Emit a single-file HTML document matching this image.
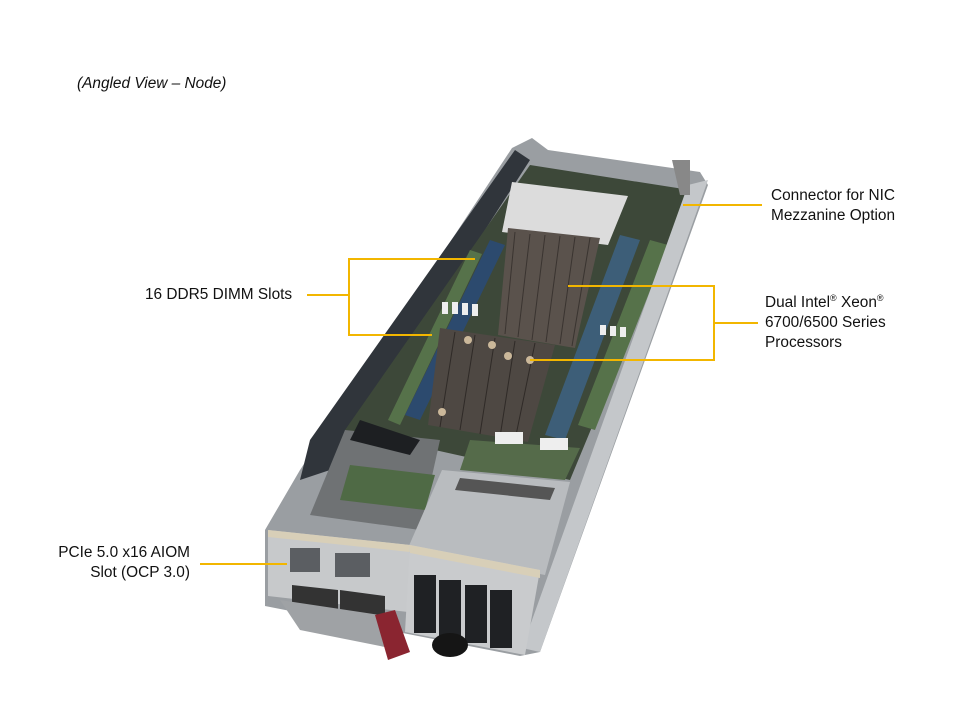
<!DOCTYPE html>
<html><head><meta charset="utf-8"><style>
html,body{margin:0;padding:0;background:#fff;}
body{width:960px;height:720px;overflow:hidden;position:relative;font-family:"Liberation Sans",Arial,sans-serif;}
.t{position:absolute;font-size:15.4px;line-height:20px;color:#111;white-space:nowrap;}
sup{font-size:9px;vertical-align:6px;line-height:0;}
</style></head><body>
<svg width="960" height="720" style="position:absolute;left:0;top:0">
  <!-- chassis outer -->
  <polygon points="512,148 532,138 548,150 700,172 708,185 540,652 520,656 265,606 265,530 300,470" fill="#9a9ea2"/>
  <!-- left wall dark -->
  <polygon points="515,150 530,160 350,440 330,470 300,480 310,440" fill="#30353b"/>
  <!-- board area -->
  <polygon points="530,165 690,190 570,480 345,430" fill="#3d4839"/>
  <!-- DIMM rows left -->
  <polygon points="490,240 505,245 420,420 405,415" fill="#2c4a6e"/>
  <polygon points="470,250 482,254 400,425 388,420" fill="#56724a"/>
  <!-- DIMM rows right -->
  <polygon points="620,235 640,240 565,440 545,435" fill="#3d5e78"/>
  <polygon points="650,240 668,245 595,430 578,425" fill="#56724a"/>
  <!-- right rail -->
  <polygon points="688,185 708,180 540,652 522,648" fill="#c4c7ca"/>
  <polygon points="672,160 690,160 690,195 680,195" fill="#888"/>
  <!-- top label plate -->
  <polygon points="512,182 628,196 608,245 502,232" fill="#dcdcdc"/>
  <!-- upper heatsink -->
  <polygon points="508,228 600,238 575,348 498,335" fill="#5a524c"/>
  <g stroke="#3a3430" stroke-width="1">
    <line x1="515" y1="232" x2="505" y2="334"/><line x1="530" y1="234" x2="518" y2="337"/>
    <line x1="545" y1="235" x2="532" y2="340"/><line x1="560" y1="236" x2="546" y2="342"/>
    <line x1="575" y1="237" x2="560" y2="344"/><line x1="590" y1="238" x2="572" y2="346"/>
  </g>
  <!-- lower heatsink -->
  <polygon points="440,328 555,345 528,442 428,425" fill="#4e4843"/>
  <g stroke="#2f2a27" stroke-width="1">
    <line x1="455" y1="332" x2="440" y2="427"/><line x1="475" y1="335" x2="460" y2="430"/>
    <line x1="495" y1="338" x2="480" y2="434"/><line x1="515" y1="341" x2="500" y2="437"/>
    <line x1="535" y1="343" x2="515" y2="440"/>
  </g>
  <g fill="#cbb89a"><circle cx="468" cy="340" r="4"/><circle cx="492" cy="345" r="4"/><circle cx="508" cy="356" r="4"/><circle cx="530" cy="360" r="4"/><circle cx="442" cy="412" r="4"/></g>
  <!-- white clips -->
  <g fill="#eee"><rect x="442" y="302" width="6" height="12"/><rect x="452" y="302" width="6" height="12"/><rect x="462" y="303" width="6" height="12"/><rect x="472" y="304" width="6" height="12"/>
  <rect x="600" y="325" width="6" height="10"/><rect x="610" y="326" width="6" height="10"/><rect x="620" y="327" width="6" height="10"/></g>
  <!-- lower left open area -->
  <polygon points="345,430 440,440 420,530 310,515" fill="#6f7274"/>
  <polygon points="350,465 435,475 425,510 340,500" fill="#4f6a45"/>
  <polygon points="360,420 420,440 410,455 350,440" fill="#1d1f22"/>
  <!-- riser board -->
  <polygon points="470,440 580,448 565,480 460,470" fill="#556b4a"/>
  <rect x="495" y="432" width="28" height="12" fill="#eee"/><rect x="540" y="438" width="28" height="12" fill="#eee"/>
  <!-- silver cover -->
  <polygon points="442,470 570,482 545,575 408,548" fill="#b9bcbf"/>
  <polygon points="460,478 555,488 550,500 455,490" fill="#555"/>
  <!-- front left IO panel -->
  <polygon points="268,530 410,545 408,612 268,596" fill="#c7c9cb"/>
  <polygon points="268,530 410,545 410,552 268,537" fill="#d8cfb8"/>
  <g fill="#5b5e62"><rect x="290" y="548" width="30" height="24"/><rect x="335" y="553" width="35" height="24"/></g>
  <polygon points="292,585 338,590 338,612 292,606" fill="#333"/><polygon points="340,590 385,596 385,618 340,612" fill="#333"/>
  <polygon points="280,600 380,615 400,650 300,630" fill="#9fa2a5"/>
  <polygon points="375,615 395,610 410,652 388,660" fill="#8a2530"/>
  <!-- front right drive panel -->
  <polygon points="410,545 540,570 525,655 405,632" fill="#c9cbcd"/>
  <polygon points="410,545 540,570 540,578 410,553" fill="#d8cfb8"/>
  <g fill="#1f2124">
    <rect x="414" y="575" width="22" height="58"/><rect x="439" y="580" width="22" height="58"/>
    <rect x="465" y="585" width="22" height="58"/><rect x="490" y="590" width="22" height="58"/>
  </g>
  <ellipse cx="450" cy="645" rx="18" ry="12" fill="#151515"/>
  <!-- leader lines -->
  <g stroke="#f2b600" stroke-width="2" fill="none">
    <polyline points="307,295 349,295"/>
    <polyline points="475,259 349,259 349,335 432,335"/>
    <polyline points="568,286 714,286 714,360 530,360"/>
    <polyline points="714,323 758,323"/>
    <polyline points="683,205 762,205"/>
    <polyline points="200,564 287,564"/>
  </g>
</svg>
<div class="t" style="left:77px;top:74px;font-style:italic;">(Angled View – Node)</div>
<div class="t" style="left:145px;top:285px;">16 DDR5 DIMM Slots</div>
<div class="t" style="left:771px;top:186px;">Connector for NIC<br>Mezzanine Option</div>
<div class="t" style="left:765px;top:293px;">Dual Intel<sup>®</sup> Xeon<sup>®</sup><br>6700/6500 Series<br>Processors</div>
<div class="t" style="left:40px;top:543px;width:150px;text-align:right;">PCIe 5.0 x16 AIOM<br>Slot (OCP 3.0)</div>
</body></html>
